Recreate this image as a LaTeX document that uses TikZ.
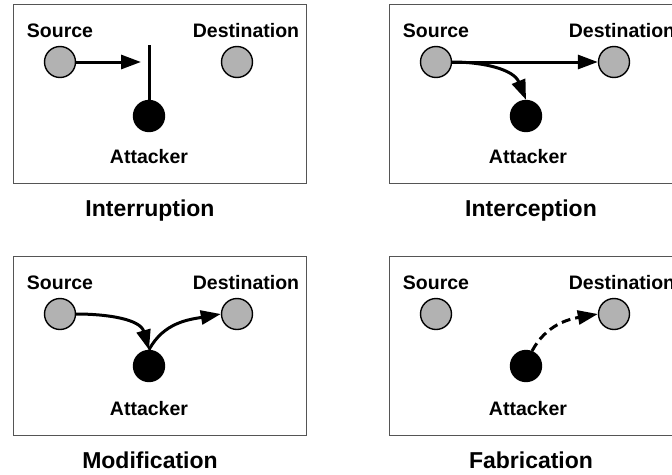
\documentclass[tikz,border=0pt]{standalone}
\usepackage{fontspec}
\setmainfont{Liberation Sans}
\usetikzlibrary{arrows.meta}
\definecolor{nodegray}{RGB}{178,178,178}
\definecolor{framegray}{RGB}{85,85,85}
\tikzset{
  panel/.style={draw=framegray, line width=1.4pt},
  peer/.style={circle, draw=black, fill=nodegray, line width=1.4pt, minimum size=31pt, inner sep=0pt},
  attacker/.style={circle, draw=black, fill=black, line width=1.4pt, minimum size=31pt, inner sep=0pt},
  lbl/.style={anchor=base, inner sep=0pt, font=\fontsize{19.5}{22}\selectfont\bfseries},
  ttl/.style={anchor=base, inner sep=0pt, font=\fontsize{23}{26}\selectfont\bfseries},
  flow/.style={line width=3pt, -{Triangle[length=20pt,width=14pt]}},
  cut/.style={line width=3pt},
}
\begin{document}
\begin{tikzpicture}[x=1pt,y=-1pt]
\useasboundingbox (0,0) rectangle (672,474);
% ---------- Interruption ----------
\node[panel, draw, minimum width=293pt, minimum height=179pt, anchor=north west, inner sep=0pt] (p1) at (13,4) {};
\node[lbl] (sl1) at (60,37) {Source};
\node[lbl] (dl1) at (246,37) {Destination};
\node[peer] (s1) at (60,62) {};
\node[peer] (d1) at (237,62) {};
\node[attacker] (a1) at (149,116) {};
\node[lbl] (al1) at (149,163) {Attacker};
\node[ttl] (t1) at (150,216) {Interruption};
\coordinate (stop1) at (141,62);
\coordinate (cuttop1) at (149,45);
\draw[flow] (s1.east) -- (stop1);
\draw[cut] (cuttop1) -- (a1.north);
% ---------- Interception ----------
\node[panel, draw, minimum width=293pt, minimum height=179pt, anchor=north west, inner sep=0pt] (p2) at (389,4) {};
\node[lbl] (sl2) at (436,37) {Source};
\node[lbl] (dl2) at (622,37) {Destination};
\node[peer] (s2) at (436,62) {};
\node[peer] (d2) at (614,62) {};
\node[attacker] (a2) at (526,116) {};
\node[lbl] (al2) at (528,163) {Attacker};
\node[ttl] (t2) at (531,216) {Interception};
\draw[flow] (s2.east) -- (d2.west);
\draw[flow] (s2.east) to[out=0,in=112] (a2.north);
% ---------- Modification ----------
\node[panel, draw, minimum width=293pt, minimum height=179pt, anchor=north west, inner sep=0pt] (p3) at (13,256) {};
\node[lbl] (sl3) at (60,289) {Source};
\node[lbl] (dl3) at (246,289) {Destination};
\node[peer] (s3) at (60,314) {};
\node[peer] (d3) at (237,314) {};
\node[attacker] (a3) at (149,366) {};
\node[lbl] (al3) at (149,415) {Attacker};
\node[ttl] (t3) at (150,468) {Modification};
\draw[flow] (s3.east) to[out=0,in=106] (a3.north);
\draw[flow] (a3.north) to[out=62,in=190] (d3.west);
% ---------- Fabrication ----------
\node[panel, draw, minimum width=293pt, minimum height=179pt, anchor=north west, inner sep=0pt] (p4) at (389,256) {};
\node[lbl] (sl4) at (436,289) {Source};
\node[lbl] (dl4) at (622,289) {Destination};
\node[peer] (s4) at (436,314) {};
\node[peer] (d4) at (614,314) {};
\node[attacker] (a4) at (526,366) {};
\node[lbl] (al4) at (528,415) {Attacker};
\node[ttl] (t4) at (531,468) {Fabrication};
\draw[flow, dash pattern=on 9pt off 5pt] (a4.68) to[out=62,in=190] (d4.west);
\end{tikzpicture}
\end{document}
